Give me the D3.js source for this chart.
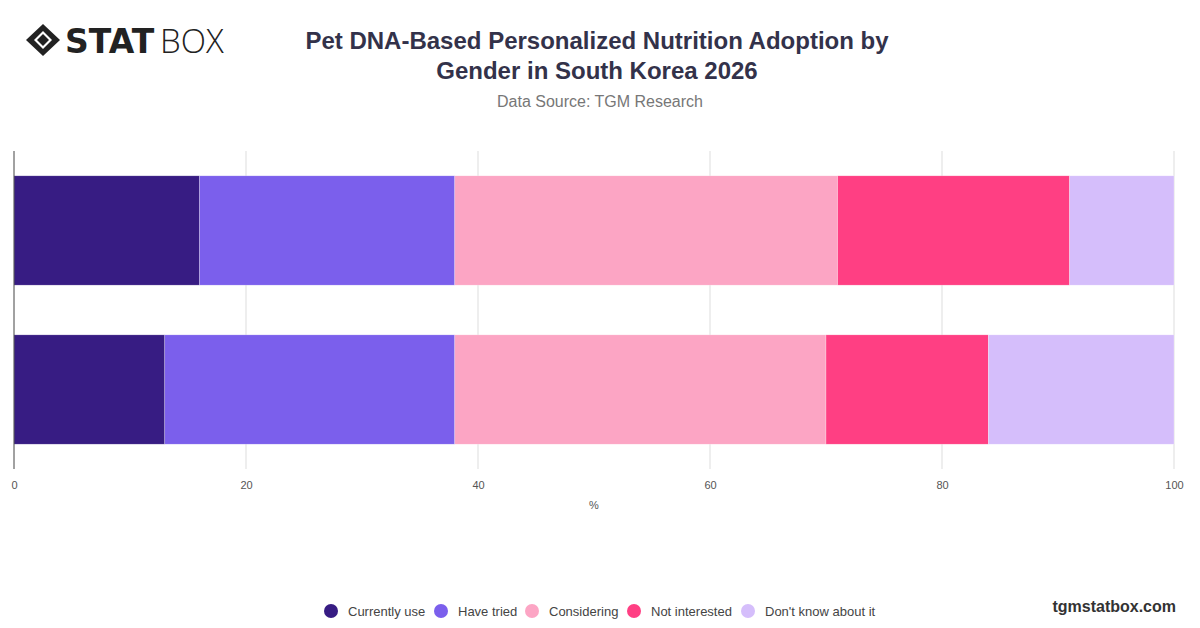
<!DOCTYPE html>
<html><head><meta charset="utf-8">
<script src="https://cdn.jsdelivr.net/npm/d3@7"></script>
<style>body{margin:0;background:#fff;font-family:"Helvetica Neue",Arial,"Liberation Sans",sans-serif}</style>
</head><body>
<svg id="c" width="1200" height="628"></svg>
<script>
var genders = ["Male", "Female"];
var seriesNames = ["Currently use", "Have tried", "Considering", "Not interested", "Don't know about it"];
var currentlyUse = [16, 13];
var haveTried = [22, 25];
var considering = [33, 32];
var notInterested = [20, 14];
var dontKnow = [9, 16];
var xTicks = [0, 20, 40, 60, 80, 100];
var colors = ["#371c83", "#7b5fec", "#fca5c4", "#ff3f83", "#d5befb"];

var svg = d3.select("#c");
var rows = genders.map(function(g, i){
	return {g: g, v: [currentlyUse[i], haveTried[i], considering[i], notInterested[i], dontKnow[i]]};
});

// logo
var logo = svg.append("g").attr("transform", "translate(26,24)");
logo.append("path").attr("d", "M17,0 L34,16 L17,32 L0,16 Z").attr("fill", "#222");
logo.append("path").attr("d", "M17,7 L26,16 L17,25 L8,16 Z").attr("fill", "#fff");
logo.append("path").attr("d", "M17,10 L23,16 L17,22 L11,16 Z").attr("fill", "#222");
logo.append("text").attr("x", 39).attr("y", 29).attr("font-size", 33).attr("font-weight", 900)
	.attr("fill", "#222").attr("font-family", "'DejaVu Sans'").attr("letter-spacing", 0).text("STAT");
logo.append("text").attr("x", 134).attr("y", 29).attr("font-size", 33).attr("font-weight", 300)
	.attr("fill", "#222").attr("font-family", "'Open Sans'").text("BOX");

svg.append("text").attr("x", 597).attr("y", 49).attr("text-anchor", "middle").attr("font-size", 24)
	.attr("font-weight", "bold").attr("fill", "#33324a").text("Pet DNA-Based Personalized Nutrition Adoption by");
svg.append("text").attr("x", 597).attr("y", 79).attr("text-anchor", "middle").attr("font-size", 24)
	.attr("font-weight", "bold").attr("fill", "#33324a").text("Gender in South Korea 2026");
svg.append("text").attr("x", 600).attr("y", 107).attr("text-anchor", "middle").attr("font-size", 16)
	.attr("fill", "#777").text("Data Source: TGM Research");

var x = d3.scaleLinear().domain([0, 100]).range([14, 1174]);
var y = d3.scaleBand().domain(genders).range([151, 469]).paddingInner(0.3125).paddingOuter(0.156);

svg.append("g").selectAll("line").data(xTicks.slice(1)).enter().append("line")
	.attr("x1", function(d){ return x(d); }).attr("x2", function(d){ return x(d); })
	.attr("y1", 151).attr("y2", 469).attr("stroke", "#ddd");

rows.forEach(function(r){
	var acc = 0;
	svg.append("g").selectAll("rect").data(r.v).enter().append("rect")
		.attr("x", function(d){ var s = x(acc); acc += d; return s; })
		.attr("width", function(d){ return x(d) - x(0); })
		.attr("y", y(r.g)).attr("height", y.bandwidth())
		.attr("fill", function(d, i){ return colors[i]; })
		.attr("stroke", "rgba(255,255,255,0.5)").attr("stroke-width", 0.5);
});

svg.append("line").attr("x1", 14).attr("x2", 14).attr("y1", 151).attr("y2", 469).attr("stroke", "#444");

var ax = svg.append("g").attr("transform", "translate(0,469)")
	.call(d3.axisBottom(x).tickValues(xTicks).tickSize(0).tickPadding(12));
ax.select(".domain").remove();
ax.selectAll("text").attr("font-size", 11).attr("fill", "#555").attr("font-family", "inherit");
svg.append("text").attr("x", 594).attr("y", 509).attr("text-anchor", "middle").attr("font-size", 11)
	.attr("fill", "#555").text("%");

// legend
var lx = [331, 441, 532, 634, 748];
var lg = svg.append("g").selectAll("g").data(seriesNames).enter().append("g")
	.attr("transform", function(d, i){ return "translate(" + lx[i] + ",611)"; });
lg.append("circle").attr("r", 7).attr("fill", function(d, i){ return colors[i]; });
lg.append("text").attr("x", 17).attr("y", 5).attr("font-size", 13).attr("fill", "#444").text(function(d){ return d; });

svg.append("text").attr("x", 1176).attr("y", 612).attr("text-anchor", "end").attr("font-size", 16)
	.attr("font-weight", "bold").attr("fill", "#333").text("tgmstatbox.com");
</script>
</body></html>
